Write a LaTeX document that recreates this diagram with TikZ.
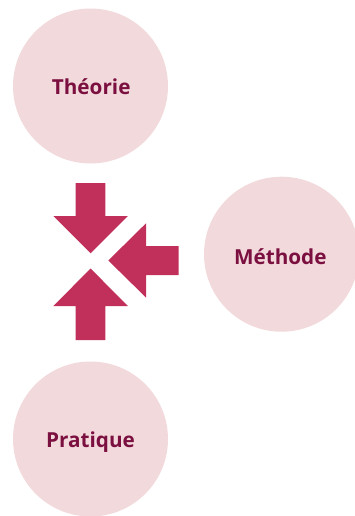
\documentclass[tikz,border=0pt]{standalone}
\usepackage{fontspec}
\setmainfont{Open Sans}
\definecolor{circfill}{HTML}{F2D9DB}
\definecolor{txtcol}{HTML}{7B1040}
\definecolor{arrcol}{HTML}{C0305A}
\begin{document}
\begin{tikzpicture}[x=1pt,y=-1pt,
  topic/.style={circle,fill=circfill,minimum size=155pt,inner sep=0pt},
  lbl/.style={inner sep=0pt,text height=14.8pt,text depth=0pt,
    font=\fontsize{20.7}{24}\selectfont\bfseries,text=txtcol},
  bigarrow/.style={fill=arrcol,draw=none}]
\useasboundingbox (0,0) rectangle (355,516);
\node[topic] (theorie) at (90.5,86) {};
\node[topic] (methode) at (281.5,254.2) {};
\node[topic] (pratique) at (90.5,439) {};
\node[lbl] (ltheorie) at (91.2,87.2) {Théorie};
\node[lbl] (lmethode) at (280.3,256.7) {Méthode};
\node[lbl] (lpratique) at (90.5,440) {Pratique};
% down arrow
\fill[bigarrow] (75.7,183) -- (105.3,183) -- (105.3,216) -- (127.8,216) -- (90.6,253.3) -- (53.4,216) -- (75.7,216) -- cycle;
% up arrow
\fill[bigarrow] (75.7,340) -- (105.3,340) -- (105.3,306) -- (127.8,306) -- (90.6,268.5) -- (53.4,306) -- (75.7,306) -- cycle;
% left arrow
\fill[bigarrow] (178.5,246) -- (178.5,275) -- (146,275) -- (146,297.5) -- (108.3,260.5) -- (146,223.3) -- (146,246) -- cycle;
\end{tikzpicture}
\end{document}
